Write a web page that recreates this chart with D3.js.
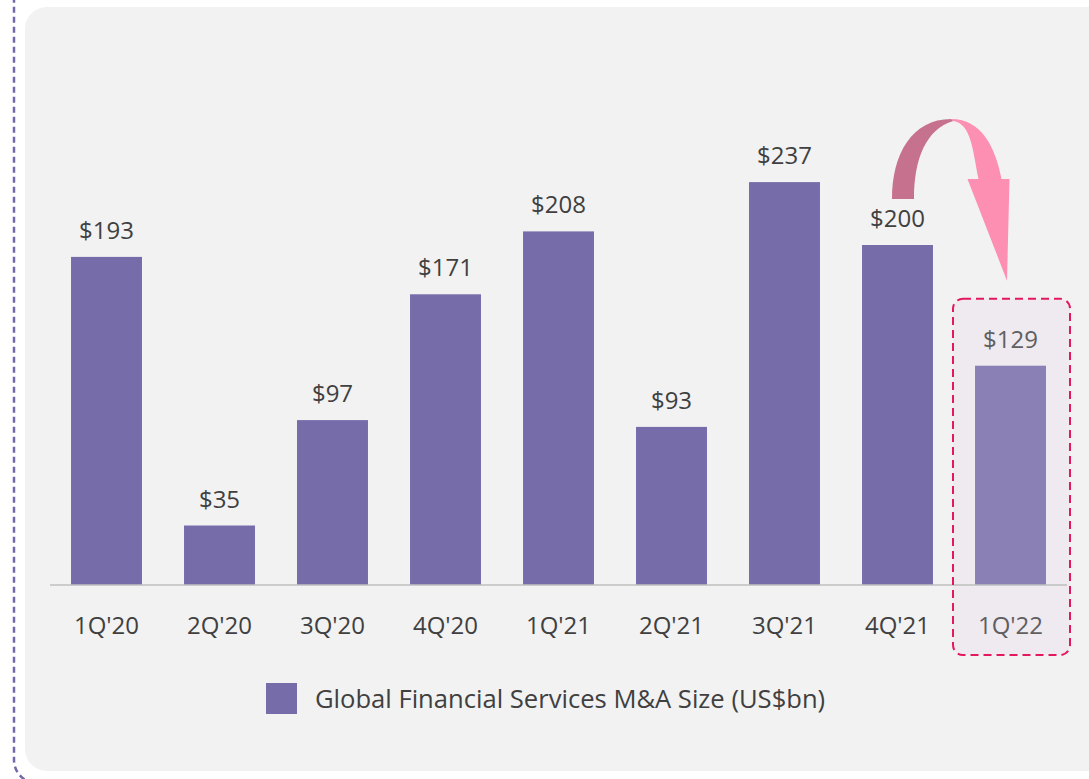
<!DOCTYPE html>
<html>
<head>
<meta charset="utf-8">
<script src="https://cdn.jsdelivr.net/npm/d3@7"></script>
<style>
  body { margin: 0; background: #ffffff; }
  svg text { font-family: "Open Sans", "Noto Sans", sans-serif; }
</style>
</head>
<body>
<div id="chart"></div>
<script>
var quarters = ["1Q'20", "2Q'20", "3Q'20", "4Q'20", "1Q'21", "2Q'21", "3Q'21", "4Q'21", "1Q'22"];
var dealSize = [193, 35, 97, 171, 208, 93, 237, 200, 129];
var seriesName = "Global Financial Services M&A Size (US$bn)";
var highlightQuarter = "1Q'22";
var fromQuarter = "4Q'21";

var width = 1089, height = 779;
var barColor = '#776caa';

var svg = d3.select('#chart').append('svg')
    .attr('width', width)
    .attr('height', height);

// outer dashed frame + grey panel
svg.append('rect')
    .attr('x', 14).attr('y', -30)
    .attr('width', 1120).attr('height', 813)
    .attr('rx', 23)
    .style('fill', 'none')
    .style('stroke', '#7468ab')
    .style('stroke-width', 2.5)
    .style('stroke-dasharray', '6,4');
svg.append('rect')
    .attr('x', 25).attr('y', 7)
    .attr('width', 1090).attr('height', 764)
    .attr('rx', 22)
    .style('fill', '#f2f2f2');

var data = quarters.map(function(q, i) { return { q: q, v: dealSize[i] }; });

var x = d3.scaleBand()
    .domain(quarters)
    .range([50, 1067])
    .paddingInner(0.372)
    .paddingOuter(0.186);
var y = d3.scaleLinear()
    .domain([0, 250])
    .range([585, 160]);

// highlight box background (drawn under bars)
var hx = x(highlightQuarter) - x.step() * x.paddingInner() / 2 - 1;
var hw = x.step() + 4;
var boxTop = y(dealSize[quarters.indexOf(highlightQuarter)]) - 67;
svg.append('rect')
    .attr('x', hx).attr('y', boxTop)
    .attr('width', hw).attr('height', 655 - boxTop)
    .attr('rx', 10)
    .style('fill', '#efe9f0');

svg.selectAll('.bar')
    .data(data)
    .enter().append('rect')
    .attr('class', 'bar')
    .attr('x', function(d) { return x(d.q); })
    .attr('y', function(d) { return y(d.v); })
    .attr('width', x.bandwidth())
    .attr('height', function(d) { return y(0) - y(d.v); })
    .style('fill', function(d) { return d.q == highlightQuarter ? '#8b80b5' : barColor; });

svg.append('line')
    .attr('x1', 50).attr('x2', 1067)
    .attr('y1', y(0)).attr('y2', y(0))
    .style('stroke', '#bfbfbf')
    .style('stroke-width', 1.5);

svg.selectAll('.val')
    .data(data)
    .enter().append('text')
    .attr('class', 'val')
    .attr('x', function(d) { return x(d.q) + x.bandwidth() / 2; })
    .attr('y', function(d) { return y(d.v) - 18; })
    .style('text-anchor', 'middle')
    .style('font-size', '24px')
    .style('fill', function(d) { return d.q == highlightQuarter ? '#5f5f5f' : '#404040'; })
    .text(function(d) { return '$' + d.v; });

svg.selectAll('.cat')
    .data(data)
    .enter().append('text')
    .attr('class', 'cat')
    .attr('x', function(d) { return x(d.q) + x.bandwidth() / 2; })
    .attr('y', 634)
    .style('text-anchor', 'middle')
    .style('font-size', '24px')
    .style('fill', function(d) { return d.q == highlightQuarter ? '#5f5f5f' : '#404040'; })
    .text(function(d) { return d.q; });

// highlight dashed outline
svg.append('rect')
    .attr('x', hx).attr('y', boxTop)
    .attr('width', hw).attr('height', 655 - boxTop)
    .attr('rx', 10)
    .style('fill', 'none')
    .style('stroke', '#e4185c')
    .style('stroke-width', 2)
    .style('stroke-dasharray', '8,5');

// curved arrow from 4Q'21 to 1Q'22
var c1 = x(fromQuarter) + x.bandwidth() / 2;
var c2 = x(highlightQuarter) + x.bandwidth() / 2;
var b = y(dealSize[quarters.indexOf(fromQuarter)]);  // top of 4Q'21 bar
var lx = c1 - 5.5, rx = c1 + 16.5, arcTop = b - 126, tail = b - 46, head = b - 66;
var mx = (lx + c2) / 2;
svg.append('path')
    .attr('d', 'M' + lx + ',' + tail +
        ' C' + lx + ',' + (tail - 45) + ' ' + (lx + 20) + ',' + arcTop + ' ' + mx + ',' + arcTop +
        ' L' + (mx + 2) + ',' + (arcTop + 2) +
        ' C' + (rx + 12) + ',' + (arcTop + 10) + ' ' + rx + ',' + (tail - 40) + ' ' + rx + ',' + tail + ' Z')
    .style('fill', '#c6728e');
svg.append('path')
    .attr('d', 'M' + mx + ',' + arcTop +
        ' C' + (mx + 30) + ',' + arcTop + ' ' + (c2 - 15) + ',' + (arcTop + 28) + ' ' + (c2 - 9) + ',' + head +
        ' L' + (c2 - 1) + ',' + head +
        ' L' + (c2 - 3.5) + ',' + (boxTop - 18) +
        ' L' + (c2 - 43) + ',' + head +
        ' L' + (c2 - 32) + ',' + head +
        ' C' + (c2 - 38) + ',' + (arcTop + 30) + ' ' + (mx + 20) + ',' + (arcTop + 5) + ' ' + (mx + 2) + ',' + (arcTop + 2) + ' Z')
    .style('fill', '#fd8fb3');

// legend
var legend = svg.append('g').attr('transform', 'translate(266,683)');
legend.append('rect')
    .attr('width', 31).attr('height', 31)
    .style('fill', barColor);
legend.append('text')
    .attr('x', 49).attr('y', 25)
    .style('font-size', '25.6px')
    .style('fill', '#404040')
    .text(seriesName);
</script>
</body>
</html>
